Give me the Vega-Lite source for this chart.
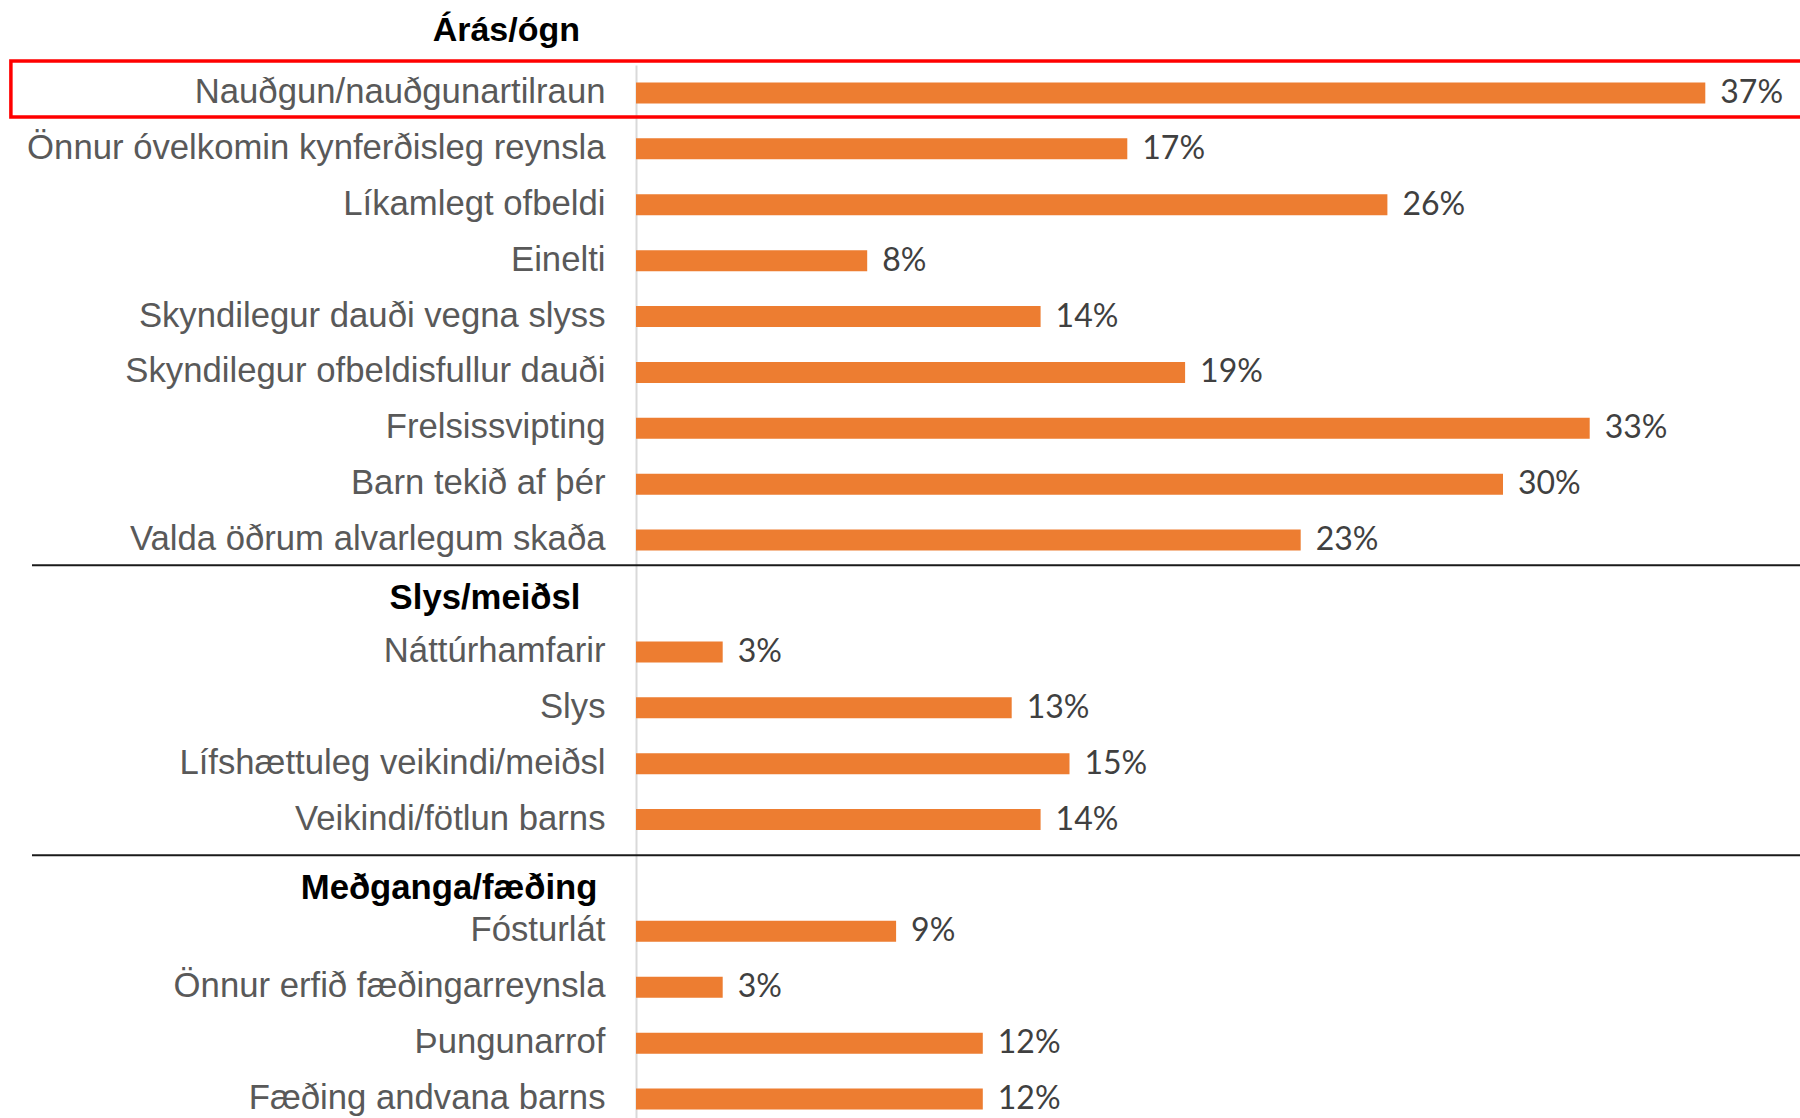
{
  "$schema": "https://vega.github.io/schema/vega-lite/v6.json",
  "width": 1156,
  "height": 1062,
  "autosize": {"type": "none"},
  "padding": {"left": 636, "top": 65, "right": 8, "bottom": -9},
  "background": "white",
  "config": {"view": {"stroke": null}},
  "title": {
    "text": "Árás/ógn",
    "anchor": "start",
    "frame": "group",
    "align": "right",
    "dx": -56,
    "offset": 11,
    "font": "Liberation Sans",
    "fontSize": 34,
    "fontWeight": "bold",
    "color": "#000000"
  },
  "data": {
    "values": [
      {"label": "Nauðgun/nauðgunartilraun", "value": 0.37},
      {"label": "Önnur óvelkomin kynferðisleg reynsla", "value": 0.17},
      {"label": "Líkamlegt ofbeldi", "value": 0.26},
      {"label": "Einelti", "value": 0.08},
      {"label": "Skyndilegur dauði vegna slyss", "value": 0.14},
      {"label": "Skyndilegur ofbeldisfullur dauði", "value": 0.19},
      {"label": "Frelsissvipting", "value": 0.33},
      {"label": "Barn tekið af þér", "value": 0.30},
      {"label": "Valda öðrum alvarlegum skaða", "value": 0.23},
      {"label": "Náttúrhamfarir", "value": 0.03},
      {"label": "Slys", "value": 0.13},
      {"label": "Lífshættuleg veikindi/meiðsl", "value": 0.15},
      {"label": "Veikindi/fötlun barns", "value": 0.14},
      {"label": "Fósturlát", "value": 0.09},
      {"label": "Önnur erfið fæðingarreynsla", "value": 0.03},
      {"label": "Þungunarrof", "value": 0.12},
      {"label": "Fæðing andvana barns", "value": 0.12}
    ]
  },
  "layer": [
    {
      "mark": {"type": "bar", "color": "#ED7D31", "size": 21},
      "encoding": {
        "y": {
          "field": "label",
          "type": "nominal",
          "scale": {
            "domain": [
              "Nauðgun/nauðgunartilraun",
              "Önnur óvelkomin kynferðisleg reynsla",
              "Líkamlegt ofbeldi",
              "Einelti",
              "Skyndilegur dauði vegna slyss",
              "Skyndilegur ofbeldisfullur dauði",
              "Frelsissvipting",
              "Barn tekið af þér",
              "Valda öðrum alvarlegum skaða",
              "Slys/meiðsl",
              "Náttúrhamfarir",
              "Slys",
              "Lífshættuleg veikindi/meiðsl",
              "Veikindi/fötlun barns",
              "Meðganga/fæðing",
              "Fósturlát",
              "Önnur erfið fæðingarreynsla",
              "Þungunarrof",
              "Fæðing andvana barns"
            ],
            "paddingInner": 0,
            "paddingOuter": 0
          },
          "axis": {
            "title": null,
            "domain": true,
            "domainColor": "#d9d9d9",
            "domainWidth": 2,
            "ticks": false,
            "grid": false,
            "labelLimit": 0,
            "labelFont": "Liberation Sans",
            "labelFontSize": 34.7,
            "labelColor": {"condition": {"test": "datum.value === 'Slys/meiðsl' || datum.value === 'Meðganga/fæðing'", "value": "#000000"}, "value": "#595959"},
            "labelFontWeight": {"condition": {"test": "datum.value === 'Slys/meiðsl' || datum.value === 'Meðganga/fæðing'", "value": "bold"}, "value": "normal"},
            "labelPadding": {"condition": [{"test": "datum.value === 'Slys/meiðsl'", "value": 56}, {"test": "datum.value === 'Meðganga/fæðing'", "value": 39}], "value": 31},
            "labelOffset": {"condition": [{"test": "datum.value === 'Slys/meiðsl'", "value": 3}, {"test": "datum.value === 'Meðganga/fæðing'", "value": 14}], "value": 0}
          }
        },
        "x": {
          "field": "value",
          "type": "quantitative",
          "scale": {"domain": [0, 0.4], "nice": false},
          "axis": null
        }
      }
    },
    {
      "mark": {"type": "text", "align": "left", "baseline": "middle", "dx": 15, "font": "Lato", "fontSize": 32, "color": "#404040"},
      "encoding": {
        "y": {"field": "label", "type": "nominal"},
        "x": {"field": "value", "type": "quantitative"},
        "text": {"field": "value", "type": "quantitative", "format": ".0%"}
      }
    },
    {
      "data": {"values": [{}]},
      "mark": {"type": "rect", "fill": null, "fillOpacity": 0, "stroke": "#FF0000", "strokeWidth": 3.5, "clip": false, "yOffset": -4},
      "encoding": {
        "y": {"datum": "Nauðgun/nauðgunartilraun", "type": "nominal"},
        "x": {"datum": -0.2163, "type": "quantitative"},
        "x2": {"datum": 0.43}
      }
    },
    {
      "data": {"values": [{}]},
      "mark": {"type": "rule", "color": "#1a1a1a", "strokeWidth": 2, "clip": false},
      "encoding": {
        "y": {"datum": "Valda öðrum alvarlegum skaða", "type": "nominal", "bandPosition": 0.95},
        "x": {"datum": -0.209, "type": "quantitative"},
        "x2": {"datum": 0.43}
      }
    },
    {
      "data": {"values": [{}]},
      "mark": {"type": "rule", "color": "#1a1a1a", "strokeWidth": 2, "clip": false},
      "encoding": {
        "y": {"datum": "Veikindi/fötlun barns", "type": "nominal", "bandPosition": 1.14},
        "x": {"datum": -0.209, "type": "quantitative"},
        "x2": {"datum": 0.43}
      }
    }
  ]
}
